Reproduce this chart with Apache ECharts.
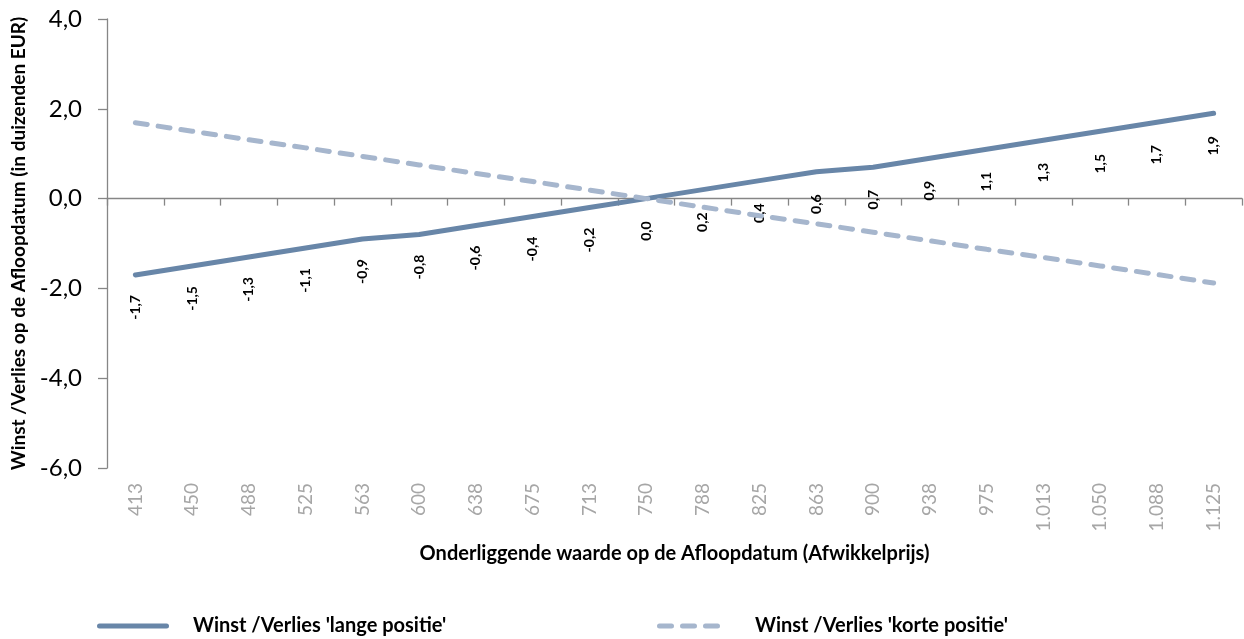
<!DOCTYPE html>
<html>
<head>
<meta charset="utf-8">
<script src="https://cdn.jsdelivr.net/npm/echarts@6/dist/echarts.min.js"></script>
<style>
  html, body { margin: 0; padding: 0; background: #fff; }
  #chart { width: 1244px; height: 639px; }
</style>
</head>
<body>
<div id="chart"></div>
<script>
// Settlement prices on the expiry date
const categories = ['413', '450', '488', '525', '563', '600', '638', '675', '713', '750',
  '788', '825', '863', '900', '938', '975', '1.013', '1.050', '1.088', '1.125'];

// Profit / loss in thousands of EUR
const longPosition = [-1.7, -1.5, -1.3, -1.1, -0.9, -0.8, -0.6, -0.4, -0.2, 0.0,
  0.2, 0.4, 0.6, 0.7, 0.9, 1.1, 1.3, 1.5, 1.7, 1.9];
const shortPosition = [1.69, 1.5, 1.31, 1.13, 0.94, 0.75, 0.56, 0.38, 0.19, 0.0,
  -0.19, -0.38, -0.56, -0.75, -0.94, -1.13, -1.31, -1.5, -1.69, -1.88];

const yTicks = { min: -6, max: 4, interval: 2 };

const seriesNames = ["Winst /Verlies 'lange positie'", "Winst /Verlies 'korte positie'"];
const yTitle = 'Winst /Verlies op de Afloopdatum (in duizenden EUR)';
const xTitle = 'Onderliggende waarde op de Afloopdatum (Afwikkelprijs)';

const LONG_COLOR = '#6886A8';
const SHORT_COLOR = '#A6B6CD';
const FONT = 'Lato';
const comma = v => Number(v).toFixed(1).replace('.', ',');

// legend keys: a solid rounded bar and a three-dash bar
const solidKey = 'path://M2.5,0H69.5A2.5,2.5,0,0,1,69.5,5H2.5A2.5,2.5,0,0,1,2.5,0Z';
const dashKey = 'path://M2.5,0H14.5A2.5,2.5,0,0,1,14.5,5H2.5A2.5,2.5,0,0,1,2.5,0Z' +
  'M25.5,0H37.5A2.5,2.5,0,0,1,37.5,5H25.5A2.5,2.5,0,0,1,25.5,0Z' +
  'M48.5,0H60.5A2.5,2.5,0,0,1,60.5,5H48.5A2.5,2.5,0,0,1,48.5,0Z';

const chart = echarts.init(document.getElementById('chart'), null, { renderer: 'canvas' });

chart.setOption({
  animation: false,
  backgroundColor: '#ffffff',
  grid: { left: 107, right: 2, top: 19, bottom: 171, containLabel: false },
  xAxis: [
    {
      // axis line crossing at zero, with ticks between categories
      type: 'category',
      position: 'bottom',
      data: categories,
      boundaryGap: true,
      axisLine: { show: true, onZero: true, lineStyle: { color: '#868686', width: 1.3 } },
      axisTick: { show: true, length: 7, alignWithLabel: false, lineStyle: { color: '#868686', width: 1.3 } },
      axisLabel: { show: false },
      splitLine: { show: false }
    },
    {
      // category labels along the bottom of the plot
      type: 'category',
      position: 'bottom',
      data: categories,
      boundaryGap: true,
      axisLine: { show: false, onZero: false },
      axisTick: { show: false },
      axisLabel: {
        show: true, rotate: 90, margin: 15, interval: 0,
        color: '#A6A6A6', fontFamily: FONT, fontSize: 19
      },
      splitLine: { show: false },
      name: xTitle,
      nameLocation: 'middle',
      nameGap: 76,
      nameTextStyle: { color: '#000', fontFamily: FONT, fontWeight: 'bold', fontSize: 20 }
    }
  ],
  yAxis: {
    type: 'value',
    min: yTicks.min,
    max: yTicks.max,
    interval: yTicks.interval,
    axisLine: { show: true, lineStyle: { color: '#868686', width: 1.3 } },
    axisTick: { show: true, length: 9, lineStyle: { color: '#868686', width: 1.3 } },
    splitLine: { show: false },
    axisLabel: {
      margin: 25, color: '#000', fontFamily: FONT, fontSize: 24,
      formatter: v => comma(v)
    },
    name: yTitle,
    nameLocation: 'middle',
    nameRotate: 90,
    nameGap: 79,
    nameTextStyle: { color: '#000', fontFamily: FONT, fontWeight: 'bold', fontSize: 19 }
  },
  legend: [
    {
      data: [{ name: seriesNames[0], icon: solidKey }],
      left: 97, top: 616, padding: 0,
      itemWidth: 72, itemHeight: 6,
      itemStyle: { color: LONG_COLOR, borderWidth: 0 },
      textStyle: { color: '#000', fontFamily: FONT, fontWeight: 'bold', fontSize: 20, padding: [0, 0, 0, 19] }
    },
    {
      data: [{ name: seriesNames[1], icon: dashKey }],
      left: 657, top: 616, padding: 0,
      itemWidth: 63, itemHeight: 6,
      itemStyle: { color: SHORT_COLOR, borderWidth: 0 },
      textStyle: { color: '#000', fontFamily: FONT, fontWeight: 'bold', fontSize: 20, padding: [0, 0, 0, 30] }
    }
  ],
  series: [
    {
      name: seriesNames[0],
      type: 'line',
      xAxisIndex: 0,
      data: longPosition,
      symbol: 'circle',
      symbolSize: 1,
      showSymbol: true,
      color: LONG_COLOR,
      itemStyle: { color: 'rgba(0,0,0,0)', borderWidth: 0 },
      lineStyle: { color: LONG_COLOR, width: 5, cap: 'round' },
      label: {
        show: true,
        position: 'bottom',
        distance: 32,
        rotate: 90,
        align: 'center',
        verticalAlign: 'middle',
        color: '#000',
        fontFamily: FONT,
        fontWeight: 'bold',
        fontSize: 14,
        formatter: p => comma(p.value)
      },
      emphasis: { disabled: true },
      z: 2
    },
    {
      name: seriesNames[1],
      type: 'line',
      xAxisIndex: 0,
      data: shortPosition,
      symbol: 'none',
      color: SHORT_COLOR,
      lineStyle: { color: SHORT_COLOR, width: 5, type: [12, 11], cap: 'round' },
      emphasis: { disabled: true },
      z: 3
    }
  ]
});
</script>
</body>
</html>
